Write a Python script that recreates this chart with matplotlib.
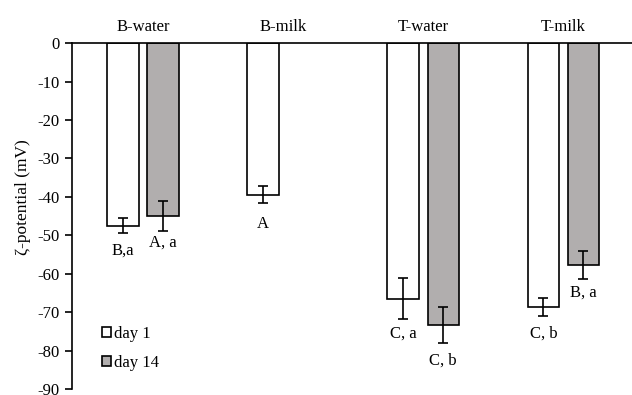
import matplotlib.pyplot as plt
import numpy as np

# categories and series (zeta potential, mV)
categories = ['B-water', 'B-milk', 'T-water', 'T-milk']
day1 = [-47.5, -39.5, -66.5, -68.7]
day1_err = [2.0, 2.2, 5.3, 2.3]
day14 = [-45.0, np.nan, -73.3, -57.7]
day14_err = [4.0, np.nan, 4.7, 3.7]
day1_labels = ['B,a', 'A', 'C, a', 'C, b']
day14_labels = ['A, a', '', 'C, b', 'B, a']
day1_label_y = [-54.0, -47.0, -75.5, -75.5]
day14_label_y = [-52.0, '', -82.5, -65.0]


def main():
    plt.rcParams['font.family'] = ['Liberation Serif', 'DejaVu Serif']
    plt.rcParams['axes.unicode_minus'] = False

    fig = plt.figure(figsize=(6.32, 3.95), dpi=100)
    ax = fig.add_axes([0.114, 0.015, 0.886, 0.876])

    x = np.arange(len(categories))
    w = 0.225
    off = 0.143
    ax.bar(x - off, day1, w, yerr=day1_err, color='white', edgecolor='black',
           linewidth=1.2, capsize=3.5, error_kw={'elinewidth': 1.2, 'capthick': 1.2},
           label='day 1')
    ax.bar(x + off, day14, w, yerr=day14_err, color='#b1aeae', edgecolor='black',
           linewidth=1.2, capsize=3.5, error_kw={'elinewidth': 1.2, 'capthick': 1.2},
           label='day 14')

    for i in range(len(categories)):
        ax.text(x[i] - off, day1_label_y[i], day1_labels[i], ha='center', va='center', fontsize=12)
        if day14_labels[i]:
            ax.text(x[i] + off, day14_label_y[i], day14_labels[i], ha='center', va='center', fontsize=12)

    ax.set_xlim(-0.507, 3.49)
    ax.set_ylim(-90, 0)
    ax.set_yticks(np.arange(-90, 1, 10))
    ax.tick_params(axis='y', direction='out', length=5, width=1.2, pad=4, labelsize=12)
    ax.xaxis.tick_top()
    ax.set_xticks(x)
    ax.set_xticklabels(categories)
    ax.tick_params(axis='x', length=0, pad=6, labelsize=12)

    ax.spines['right'].set_visible(False)
    ax.spines['bottom'].set_visible(False)
    ax.spines['top'].set_linewidth(1.2)
    ax.spines['left'].set_linewidth(1.2)

    ax.set_ylabel('ζ-potential (mV)', fontsize=12.5)
    ax.yaxis.set_label_coords(-0.074, 0.555)

    ax.legend(loc='center left', bbox_to_anchor=(0.054, 0.118), frameon=False, fontsize=12,
              handlelength=0.55, handleheight=0.55, handletextpad=0.15, labelspacing=0.8,
              borderpad=0, borderaxespad=0)

    fig.savefig('out.png', dpi=100)


if __name__ == "__main__":
    main()
